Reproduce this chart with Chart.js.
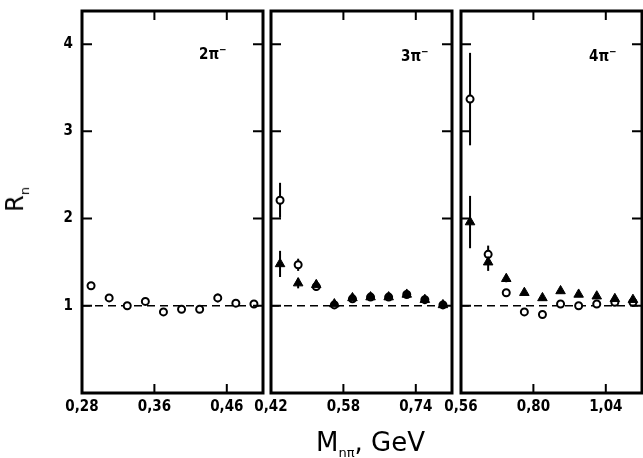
<!DOCTYPE html>
<html>
<head>
<meta charset="utf-8">
<script src="https://cdn.jsdelivr.net/npm/chart.js@4.4.1/dist/chart.umd.min.js"></script>
<style>
  body { margin: 0; background: #fff; }
  #wrap { position: relative; width: 643px; height: 458px; overflow: hidden; }
  canvas { position: absolute; left: 0; top: 0; }
  .lbl { position: absolute; color: #000; white-space: nowrap; }
  .panel-lbl { font: bold 15px 'DejaVu Sans Condensed', 'DejaVu Sans', sans-serif; }
  .panel-lbl sup { font-size: 10px; }
  #ytitle { left: 4px; top: 184px; font: 24px 'DejaVu Sans', sans-serif; transform: rotate(-90deg); transform-origin: center; }
  #ytitle sub { font-size: 13px; }
  #xtitle { left: 316px; top: 430px; font: 26px 'DejaVu Sans', sans-serif; line-height: 25px; }
  #xtitle sub { font-size: 13px; vertical-align: -6px; }
</style>
</head>
<body>
<div id="wrap">
  <canvas id="c1" width="643" height="458"></canvas>
  <canvas id="c2" width="643" height="458"></canvas>
  <canvas id="c3" width="643" height="458"></canvas>
  <div class="lbl panel-lbl" style="left:199px; top:44px;">2π<sup>−</sup></div>
  <div class="lbl panel-lbl" style="left:401px; top:46px;">3π<sup>−</sup></div>
  <div class="lbl panel-lbl" style="left:589px; top:46px;">4π<sup>−</sup></div>
  <div class="lbl" id="ytitle">R<sub>n</sub></div>
  <div class="lbl" id="xtitle">M<sub>nπ</sub>, GeV</div>
</div>
<script>
// --- values ---
const rTicks = [1, 2, 3, 4];
const rLimits = [0, 4.38];

// 2 pi panel
const limits2pi = [0.28, 0.48];
const ticks2pi = [0.28, 0.36, 0.44];
const tickLabels2pi = ['0,28', '0,36', '0,46'];
const mass2pi = [0.29, 0.31, 0.33, 0.35, 0.37, 0.39, 0.41, 0.43, 0.45, 0.47];
const rOpen2pi = [1.23, 1.09, 1.00, 1.05, 0.93, 0.96, 0.96, 1.09, 1.03, 1.02];
const errOpen2pi = [0.04, 0.04, 0.03, 0.04, 0.04, 0.04, 0.04, 0.05, 0.04, 0.04];

// 3 pi panel
const limits3pi = [0.42, 0.82];
const ticks3pi = [0.42, 0.58, 0.74];
const tickLabels3pi = ['0,42', '0,58', '0,74'];
const mass3pi = [0.44, 0.48, 0.52, 0.56, 0.60, 0.64, 0.68, 0.72, 0.76, 0.80];
const rOpen3pi = [2.21, 1.47, 1.22, 1.01, 1.08, 1.10, 1.10, 1.13, 1.07, 1.01];
const errOpen3pi = [0.20, 0.07, 0.05, 0.03, 0.03, 0.03, 0.03, 0.03, 0.03, 0.03];
const rFilled3pi = [1.48, 1.26, 1.24, 1.02, 1.09, 1.10, 1.10, 1.13, 1.07, 1.01];
const errFilled3pi = [0.15, 0.06, 0.05, 0.03, 0.03, 0.03, 0.03, 0.03, 0.03, 0.03];

// 4 pi panel
const limits4pi = [0.56, 1.16];
const ticks4pi = [0.56, 0.80, 1.04];
const tickLabels4pi = ['0,56', '0,80', '1,04'];
const mass4pi = [0.59, 0.65, 0.71, 0.77, 0.83, 0.89, 0.95, 1.01, 1.07, 1.13];
const rOpen4pi = [3.37, 1.59, 1.15, 0.93, 0.90, 1.02, 1.00, 1.02, 1.04, 1.04];
const errOpen4pi = [0.53, 0.10, 0.04, 0.03, 0.03, 0.03, 0.03, 0.03, 0.03, 0.03];
const rFilled4pi = [1.96, 1.50, 1.31, 1.15, 1.09, 1.17, 1.13, 1.11, 1.08, 1.07];
const errFilled4pi = [0.30, 0.10, 0.04, 0.03, 0.03, 0.03, 0.03, 0.03, 0.03, 0.03];

const tickFont = { family: "'DejaVu Sans Condensed', 'DejaVu Sans', sans-serif", size: 15, weight: 'bold' };

// error bars, frame and inward tick marks
const panelDecor = {
    id: 'panelDecor',
    beforeDatasetsDraw(chart) {
        const ctx = chart.ctx;
        const y = chart.scales.y;
        ctx.save();
        ctx.strokeStyle = '#000';
        ctx.lineWidth = 2;
        chart.data.datasets.forEach((ds, i) => {
            if (!ds.errors) return;
            const meta = chart.getDatasetMeta(i);
            ds.data.forEach((p, j) => {
                const e = ds.errors[j];
                const px = meta.data[j].x;
                ctx.beginPath();
                ctx.moveTo(px, y.getPixelForValue(p.y - e));
                ctx.lineTo(px, y.getPixelForValue(p.y + e));
                ctx.stroke();
            });
        });
        ctx.restore();
    },
    afterDraw(chart, args, opts) {
        const ctx = chart.ctx;
        const a = chart.chartArea;
        const x = chart.scales.x;
        const y = chart.scales.y;
        ctx.save();
        ctx.strokeStyle = '#000';
        ctx.lineWidth = 2;
        opts.xTicks.forEach(v => {
            const px = x.getPixelForValue(v);
            if (px - a.left < 2 || a.right - px < 2) return;
            ctx.beginPath();
            ctx.moveTo(px, a.bottom); ctx.lineTo(px, a.bottom - 9);
            ctx.moveTo(px, a.top); ctx.lineTo(px, a.top + 9);
            ctx.stroke();
        });
        rTicks.forEach(v => {
            const py = y.getPixelForValue(v);
            ctx.beginPath();
            ctx.moveTo(a.left, py); ctx.lineTo(a.left + 10, py);
            ctx.moveTo(a.right, py); ctx.lineTo(a.right - 10, py);
            ctx.stroke();
        });
        ctx.lineWidth = 3;
        ctx.strokeRect(a.left, a.top, a.right - a.left, a.bottom - a.top);
        ctx.restore();
    }
};

function makePanel(id, pad, limits, xTicks, xLabels, mass, rOpen, errOpen, rFilled, errFilled, showY) {
    const datasets = [];
    if (rFilled) {
        datasets.push({
            data: mass.map((m, i) => ({ x: m, y: rFilled[i] })),
            errors: errFilled,
            pointStyle: 'triangle', pointRadius: 5.5, pointBorderWidth: 1,
            backgroundColor: '#000', borderColor: '#000', order: 0
        });
    }
    datasets.push({
        data: mass.map((m, i) => ({ x: m, y: rOpen[i] })),
        errors: errOpen,
        pointStyle: 'circle', pointRadius: 3.5, pointBorderWidth: 2,
        backgroundColor: '#fff', borderColor: '#000', order: 1
    });
    datasets.push({
        type: 'line',
        data: [{ x: limits[0], y: 1 }, { x: limits[1], y: 1 }],
        borderColor: '#000', borderWidth: 1.5, borderDash: [8, 5],
        pointRadius: 0, order: 2
    });

    return new Chart(document.getElementById(id), {
        type: 'scatter',
        data: { datasets: datasets },
        options: {
            responsive: false, animation: false, devicePixelRatio: 1,
            layout: { padding: pad, autoPadding: false },
            plugins: { legend: { display: false }, tooltip: { enabled: false }, panelDecor: { xTicks: xTicks } },
            scales: {
                x: {
                    type: 'linear', min: limits[0], max: limits[1],
                    afterBuildTicks: s => { s.ticks = xTicks.map(v => ({ value: v })); },
                    afterFit: s => { s.height = 30; s.paddingLeft = 0; s.paddingRight = 0; },
                    grid: { display: false, drawTicks: false },
                    border: { display: false },
                    ticks: { autoSkip: false, maxRotation: 0, padding: 5, color: '#000', font: tickFont,
                             callback: (v, i) => xLabels[i] }
                },
                y: {
                    display: showY, min: rLimits[0], max: rLimits[1],
                    afterBuildTicks: s => { s.ticks = rTicks.map(v => ({ value: v })); },
                    afterFit: s => { s.width = showY ? 82 : 0; s.paddingTop = 0; s.paddingBottom = 0; },
                    grid: { display: false, drawTicks: false },
                    border: { display: false },
                    ticks: { padding: 9, color: '#000', font: tickFont }
                }
            }
        },
        plugins: [panelDecor]
    });
}

makePanel('c1', { left: 0, right: 380, top: 11, bottom: 35 }, limits2pi, ticks2pi, tickLabels2pi,
          mass2pi, rOpen2pi, errOpen2pi, null, null, true);
makePanel('c2', { left: 271, right: 191, top: 11, bottom: 35 }, limits3pi, ticks3pi, tickLabels3pi,
          mass3pi, rOpen3pi, errOpen3pi, rFilled3pi, errFilled3pi, false);
makePanel('c3', { left: 461, right: 1, top: 11, bottom: 35 }, limits4pi, ticks4pi, tickLabels4pi,
          mass4pi, rOpen4pi, errOpen4pi, rFilled4pi, errFilled4pi, false);
</script>
</body>
</html>
